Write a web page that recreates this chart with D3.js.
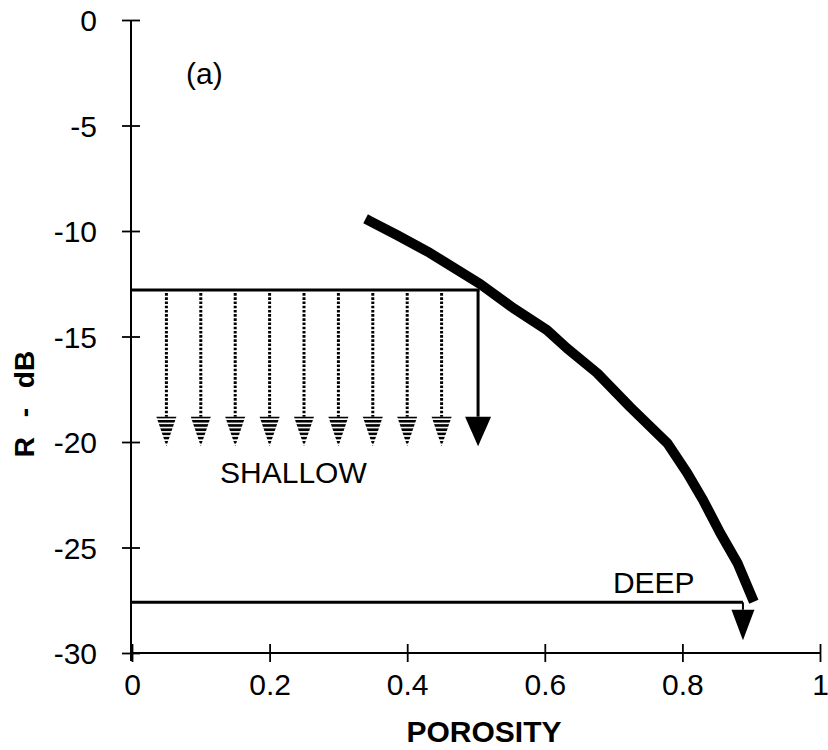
<!DOCTYPE html>
<html>
<head>
<meta charset="utf-8">
<script src="https://cdn.jsdelivr.net/npm/d3@7"></script>
<style>
  html, body { margin: 0; padding: 0; background: #fff; }
  svg { display: block; }
  text { font-family: "Liberation Sans", Arial, Helvetica, sans-serif; fill: #000; }
</style>
</head>
<body>
<div id="chart"></div>
<script>
// ---- data ----
const curvePorosity = [0.346, 0.385, 0.433, 0.506, 0.554, 0.603, 0.632, 0.676, 0.724, 0.778, 0.807, 0.830, 0.855, 0.880, 0.901];
const curveR        = [-9.53, -10.19, -11.04, -12.51, -13.65, -14.69, -15.55, -16.73, -18.34, -20.05, -21.47, -22.75, -24.31, -25.73, -27.35];

const xTicks = [0, 0.2, 0.4, 0.6, 0.8, 1];
const xTickLabels = ["0", "0.2", "0.4", "0.6", "0.8", "1"];
const yTicks = [0, -5, -10, -15, -20, -25, -30];
const yTickLabels = ["0", "-5", "-10", "-15", "-20", "-25", "-30"];

const shallowLevel = -12.8;
const shallowEndX = 0.505;
const shallowArrowX = [0.05, 0.10, 0.15, 0.20, 0.25, 0.30, 0.35, 0.40, 0.45];
const shallowMainArrowX = [0.503];
const shallowHeadTop = -18.8;
const shallowHeadTip = -20.2;

const deepLevel = -27.6;
const deepArrowX = [0.888];
const deepHeadTop = -27.95;
const deepHeadTip = -29.4;

// ---- layout ----
const W = 828, H = 750;
const svg = d3.select("#chart").append("svg").attr("width", W).attr("height", H);
svg.append("rect").attr("width", W).attr("height", H).attr("fill", "#fff");

const x = d3.scaleLinear().domain([0, 1]).range([132, 820]);
const y = d3.scaleLinear().domain([0, -30]).range([20, 653]);

// stripe pattern for hatched arrowheads
const defs = svg.append("defs");
const pat = defs.append("pattern").attr("id", "stripes")
  .attr("patternUnits", "userSpaceOnUse").attr("width", 8).attr("height", 4.2);
pat.append("rect").attr("width", 8).attr("height", 4.2).attr("fill", "#fff");
pat.append("rect").attr("y", 0).attr("width", 8).attr("height", 2.6).attr("fill", "#000");

// ---- axes ----
const xAxis = d3.axisBottom(x).tickValues(xTicks).tickFormat((d, i) => xTickLabels[i])
  .tickSizeInner(9).tickSizeOuter(0).tickPadding(24);
const gx = svg.append("g").attr("transform", `translate(0,${y(-30)})`).call(xAxis);
gx.select(".domain").attr("stroke", "#000").attr("stroke-width", 2)
  .attr("d", `M${x(0) - 1},0H${x(1)}`);
gx.selectAll(".tick line").attr("stroke", "#000").attr("stroke-width", 1.8).attr("y1", -9).attr("y2", 9);
gx.selectAll(".tick text").attr("font-size", 30).attr("fill", "#000").attr("dy", null).attr("y", 42);

const yAxis = d3.axisLeft(y).tickValues(yTicks).tickFormat((d, i) => yTickLabels[i])
  .tickSizeInner(9).tickSizeOuter(0).tickPadding(26);
const gy = svg.append("g").attr("transform", `translate(${x(0) - 1},0)`).call(yAxis);
gy.select(".domain").attr("stroke", "#000").attr("stroke-width", 2)
  .attr("d", `M0,${y(0)}V${y(-30) + 8}`);
gy.selectAll(".tick line").attr("stroke", "#000").attr("stroke-width", 1.8).attr("x1", -9).attr("x2", 9);
gy.selectAll(".tick text").attr("font-size", 30).attr("fill", "#000").attr("x", -34).attr("dy", "0.35em");

// axis titles
svg.append("text").attr("x", (x(0) + x(1)) / 2 + 8).attr("y", 742)
  .attr("text-anchor", "middle").attr("font-size", 30).attr("font-weight", "bold")
  .text("POROSITY");
svg.append("text").attr("transform", `translate(34,${y(-18.2)}) rotate(-90)`)
  .attr("text-anchor", "middle").attr("font-size", 28).attr("font-weight", "bold")
  .attr("word-spacing", 12).text("R - dB");

// panel label
svg.append("text").attr("x", 186).attr("y", 84).attr("font-size", 30).text("(a)");

// ---- main curve ----
const curveData = curvePorosity.map((p, i) => [p, curveR[i]]);
svg.append("path").datum(curveData)
  .attr("fill", "none").attr("stroke", "#000").attr("stroke-width", 10)
  .attr("stroke-linejoin", "round").attr("stroke-linecap", "square")
  .attr("d", d3.line().x(d => x(d[0])).y(d => y(d[1])));

// ---- shallow ----
svg.append("line").attr("x1", x(0)).attr("x2", x(shallowEndX))
  .attr("y1", y(shallowLevel)).attr("y2", y(shallowLevel))
  .attr("stroke", "#000").attr("stroke-width", 3);

const headW = 20;
const sg = svg.append("g").selectAll("g").data(shallowArrowX).join("g");
sg.append("line").attr("x1", d => x(d)).attr("x2", d => x(d))
  .attr("y1", y(shallowLevel) + 3).attr("y2", y(shallowHeadTop))
  .attr("stroke", "#000").attr("stroke-width", 3).attr("stroke-dasharray", "2.6,1.6");
sg.append("path")
  .attr("d", d => `M${x(d) - headW / 2},${y(shallowHeadTop)}L${x(d) + headW / 2},${y(shallowHeadTop)}L${x(d)},${y(shallowHeadTip)}Z`)
  .attr("fill", "url(#stripes)");

const mg = svg.append("g").selectAll("g").data(shallowMainArrowX).join("g");
mg.append("line").attr("x1", d => x(d)).attr("x2", d => x(d))
  .attr("y1", y(shallowLevel)).attr("y2", y(shallowHeadTop))
  .attr("stroke", "#000").attr("stroke-width", 3);
mg.append("path")
  .attr("d", d => `M${x(d) - 13},${y(shallowHeadTop)}L${x(d) + 13},${y(shallowHeadTop)}L${x(d)},${y(shallowHeadTip)}Z`)
  .attr("fill", "#000");

svg.append("text").attr("x", x(0.128)).attr("y", y(-21.95)).attr("font-size", 30).text("SHALLOW");

// ---- deep ----
svg.append("line").attr("x1", x(0)).attr("x2", x(deepArrowX[0]))
  .attr("y1", y(deepLevel)).attr("y2", y(deepLevel))
  .attr("stroke", "#000").attr("stroke-width", 3);
const dg = svg.append("g").selectAll("g").data(deepArrowX).join("g");
dg.append("line").attr("x1", d => x(d)).attr("x2", d => x(d))
  .attr("y1", y(deepLevel)).attr("y2", y(deepHeadTop))
  .attr("stroke", "#000").attr("stroke-width", 2);
dg.append("path")
  .attr("d", d => `M${x(d) - 11.5},${y(deepHeadTop)}L${x(d) + 11.5},${y(deepHeadTop)}L${x(d)},${y(deepHeadTip)}Z`)
  .attr("fill", "#000");

svg.append("text").attr("x", x(0.699)).attr("y", y(-27.15)).attr("font-size", 30).text("DEEP");
</script>
</body>
</html>
